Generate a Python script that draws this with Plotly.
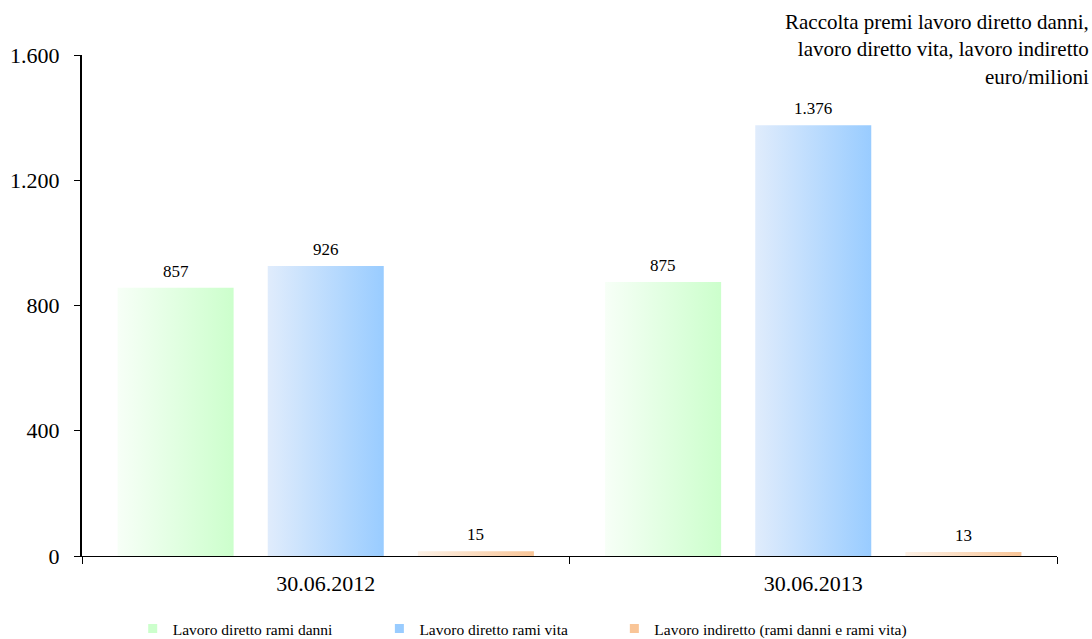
import plotly.graph_objects as go

# Premium income by business line, euro millions
categories = ["30.06.2012", "30.06.2013"]
series_names = [
    "Lavoro diretto rami danni",
    "Lavoro diretto rami vita",
    "Lavoro indiretto (rami danni e rami vita)",
]
danni = [857, 875]
vita = [926, 1376]
indiretto = [15, 13]
series_values = [danni, vita, indiretto]

# horizontal gradient per series: light edge -> full colour
gradients = [
    ("#f7fff7", "#ccffcc"),
    ("#e0ecfc", "#99ccff"),
    ("#fdf1e6", "#f9c597"),
]

bar_width = 0.238
bar_pitch = 0.308
FONT = "Liberation Serif"

fig = go.Figure()

for s, (name, values) in enumerate(zip(series_names, series_values)):
    light, dark = gradients[s]
    offset = (s - 1) * bar_pitch
    for c, v in enumerate(values):
        x0 = c + offset - bar_width / 2
        x1 = c + offset + bar_width / 2
        fig.add_trace(go.Scatter(
            x=[x0, x1, x1, x0, x0],
            y=[0, 0, v, v, 0],
            mode="lines",
            fill="toself",
            line=dict(width=0),
            fillgradient=dict(type="horizontal",
                              colorscale=[[0, light], [1, dark]]),
            hoverinfo="skip",
            showlegend=False,
        ))
        fig.add_annotation(
            x=c + offset, y=v, xref="x", yref="y",
            text=f"{v:,}".replace(",", "."),
            showarrow=False, yanchor="bottom", yshift=5,
            font=dict(family=FONT, size=17, color="#000000"),
        )

# legend entries, one small legend per series
legend_x = [0.052, 0.305, 0.546]
for s, name in enumerate(series_names):
    lg = "legend" if s == 0 else f"legend{s + 1}"
    fig.add_trace(go.Scatter(
        x=[None], y=[None], mode="markers", name=name,
        marker=dict(symbol="square", size=9, color=gradients[s][1]),
        legend=lg, showlegend=True,
    ))

legend_style = dict(
    orientation="h", yanchor="middle", xanchor="left",
    yref="container", y=1 - 629 / 639,
    bgcolor="rgba(0,0,0,0)", borderwidth=0,
    font=dict(family=FONT, size=15.5, color="#000000"),
    itemwidth=30,
)
fig.update_layout(
    legend=dict(x=legend_x[0], **legend_style),
    legend2=dict(x=legend_x[1], **legend_style),
    legend3=dict(x=legend_x[2], **legend_style),
)

fig.add_annotation(
    x=1.035, y=1.094, xref="paper", yref="paper",
    xanchor="right", yanchor="top", align="right", showarrow=False,
    text="Raccolta premi lavoro diretto danni,<br>lavoro diretto vita, lavoro indiretto<br>euro/milioni",
    font=dict(family=FONT, size=21, color="#000000"),
)

fig.update_layout(
    width=1092, height=639,
    margin=dict(l=82, r=35, t=55, b=83, autoexpand=False),
    paper_bgcolor="#ffffff", plot_bgcolor="#ffffff",
    separators=",.",
    font=dict(family=FONT, size=22, color="#000000"),
    xaxis=dict(
        range=[-0.5, 1.5],
        tickmode="array", tickvals=list(range(len(categories))),
        ticktext=categories, ticks="",
        showline=True, linecolor="#000000", linewidth=1,
        showgrid=False, zeroline=False, ticklabelstandoff=8,
        automargin=False,
        minor=dict(tickmode="linear", tick0=0.5, dtick=1,
                   ticks="outside", ticklen=7, tickcolor="#000000",
                   showgrid=False),
        fixedrange=True,
    ),
    yaxis=dict(
        range=[0, 1600], tickmode="array",
        tickvals=[0, 400, 800, 1200, 1600], tickformat=",d",
        ticks="outside", ticklen=6, tickcolor="#000000",
        showline=True, linecolor="#000000", linewidth=2,
        showgrid=False, zeroline=False, ticklabelstandoff=10,
        automargin=False,
        fixedrange=True,
    ),
)

fig.write_html("out.html")
